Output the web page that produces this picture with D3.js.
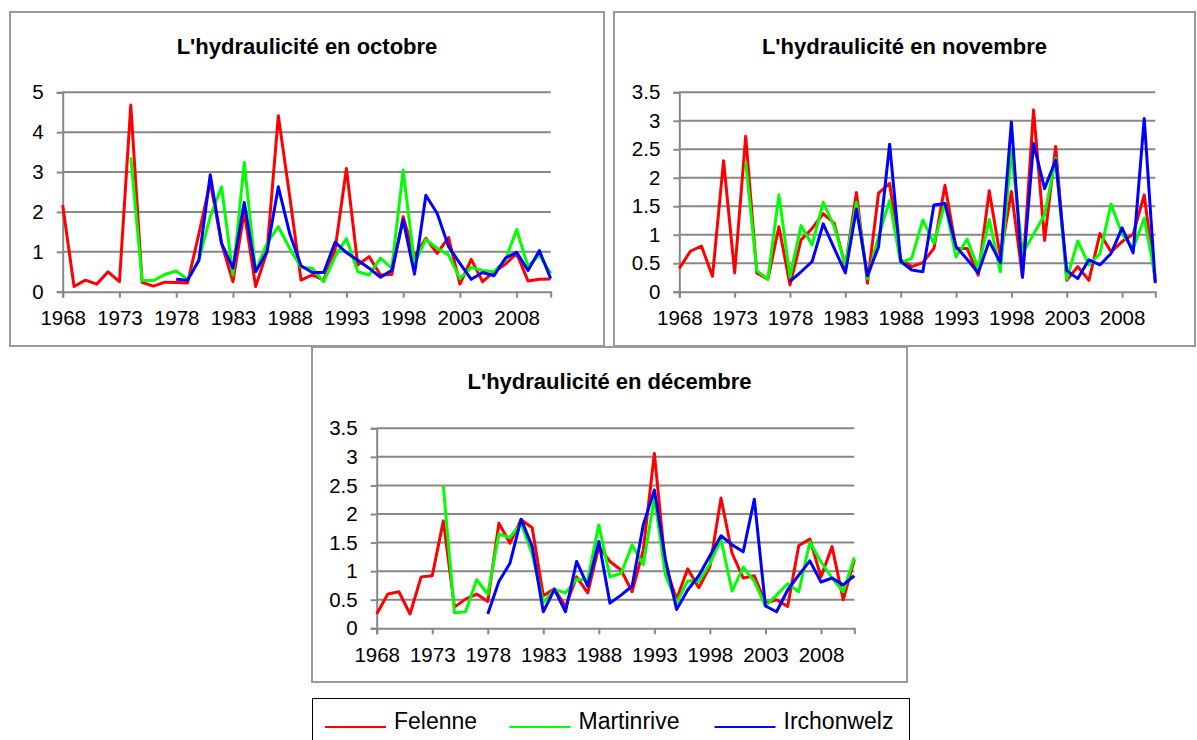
<!DOCTYPE html>
<html>
<head>
<meta charset="utf-8">
<script src="https://cdn.jsdelivr.net/npm/d3@7"></script>
<style>
  html, body { margin: 0; padding: 0; background: #fff; }
  svg { display: block; font-family: "Liberation Sans", Arial, sans-serif; }
</style>
</head>
<body>
<svg id="chart" width="1197" height="740"></svg>
<script>
// ---------- DATA ----------
const years = [1968,1969,1970,1971,1972,1973,1974,1975,1976,1977,1978,1979,1980,1981,1982,1983,1984,1985,1986,1987,1988,1989,1990,1991,1992,1993,1994,1995,1996,1997,1998,1999,2000,2001,2002,2003,2004,2005,2006,2007,2008,2009,2010,2011];
const xTickYears = [1968,1973,1978,1983,1988,1993,1998,2003,2008];
const seriesNames = ["Felenne", "Martinrive", "Irchonwelz"];
const seriesColors = ["#ff0000", "#00ff00", "#0000ff"];

const titles = ["L'hydraulicité en octobre", "L'hydraulicité en novembre", "L'hydraulicité en décembre"];
const yTicksOct = [0,1,2,3,4,5];
const yTicksNovDec = [0,0.5,1,1.5,2,2.5,3,3.5];

// Octobre
const octFelenne    = [2.17,0.13,0.29,0.19,0.50,0.25,4.68,0.23,0.14,0.24,0.23,0.22,1.45,2.75,1.21,0.25,2.00,0.13,1.00,4.41,2.40,0.29,0.42,0.29,1.05,3.09,0.67,0.88,0.42,0.43,1.88,0.88,1.34,0.96,1.36,0.19,0.81,0.25,0.50,0.69,0.96,0.27,0.31,0.32];
const octMartinrive = [null,null,null,null,null,null,3.37,0.28,0.28,0.43,0.52,0.31,0.79,1.88,2.63,0.42,3.24,0.52,1.21,1.63,1.09,0.61,0.59,0.25,0.88,1.33,0.50,0.42,0.84,0.59,3.05,0.71,1.31,1.09,0.92,0.33,0.61,0.53,0.50,0.79,1.56,0.63,0.92,0.46];
const octIrchonwelz = [null,null,null,null,null,null,null,null,null,null,0.31,0.29,0.79,2.93,1.21,0.59,2.24,0.50,1.00,2.63,1.46,0.65,0.48,0.48,1.24,0.98,0.79,0.59,0.36,0.54,1.80,0.44,2.42,1.96,1.13,0.71,0.31,0.48,0.40,0.84,0.99,0.53,1.03,0.33];

// Novembre
const novFelenne    = [0.41,0.71,0.80,0.27,2.30,0.33,2.73,0.33,0.22,1.14,0.12,0.91,1.11,1.37,1.20,0.44,1.74,0.15,1.73,1.90,0.56,0.44,0.51,0.76,1.87,0.76,0.76,0.29,1.77,0.61,1.76,0.26,3.19,0.90,2.55,0.20,0.44,0.20,1.02,0.70,0.88,1.01,1.70,0.18];
const novMartinrive = [null,null,null,null,null,null,2.27,0.37,0.22,1.70,0.26,1.16,0.82,1.57,1.14,0.47,1.57,0.23,0.97,1.60,0.50,0.59,1.26,0.85,1.55,0.61,0.92,0.41,1.27,0.35,2.46,0.67,1.01,1.35,2.34,0.22,0.89,0.47,0.67,1.54,1.01,0.76,1.29,0.26];
const novIrchonwelz = [null,null,null,null,null,null,null,null,null,null,0.18,0.35,0.53,1.19,0.76,0.33,1.45,0.28,0.79,2.59,0.53,0.38,0.35,1.52,1.55,0.79,0.57,0.33,0.89,0.51,2.98,0.25,2.60,1.81,2.31,0.37,0.23,0.56,0.47,0.67,1.12,0.68,3.04,0.15];

// Décembre
const decFelenne    = [0.25,0.60,0.64,0.25,0.90,0.92,1.88,0.37,0.51,0.60,0.47,1.84,1.49,1.90,1.76,0.57,0.69,0.38,0.90,0.62,1.43,1.17,1.02,0.64,1.37,3.06,1.08,0.51,1.04,0.71,1.08,2.28,1.31,0.88,0.92,0.44,0.50,0.38,1.45,1.56,0.90,1.43,0.50,1.20];
const decMartinrive = [null,null,null,null,null,null,2.49,0.27,0.29,0.85,0.60,1.65,1.59,1.84,1.30,0.45,0.68,0.62,0.86,0.85,1.81,0.90,0.96,1.46,1.11,2.29,0.93,0.45,0.83,0.82,1.13,1.55,0.65,1.07,0.82,0.39,0.58,0.78,0.64,1.51,1.16,0.88,0.64,1.24];
const decIrchonwelz = [null,null,null,null,null,null,null,null,null,null,0.25,0.82,1.14,1.91,1.43,0.29,0.68,0.29,1.17,0.74,1.52,0.44,0.58,0.74,1.81,2.42,1.20,0.33,0.67,0.92,1.27,1.62,1.46,1.34,2.26,0.39,0.29,0.67,0.93,1.18,0.81,0.88,0.76,0.92];

// ---------- LAYOUT ----------
const panels = [
  { title: titles[0], frame: [10, 12, 604, 346], x0: 62.7, x1: 550.7, yTop: 92.3, yBot: 291.7, yMax: 5, yTicks: yTicksOct,
    series: [octFelenne, octMartinrive, octIrchonwelz] },
  { title: titles[1], frame: [614, 12, 1195, 346], x0: 679.3, x1: 1155.3, yTop: 92.3, yBot: 291.7, yMax: 3.5, yTicks: yTicksNovDec,
    series: [novFelenne, novMartinrive, novIrchonwelz] },
  { title: titles[2], frame: [312, 347, 907, 682], x0: 376.7, x1: 854.3, yTop: 428.3, yBot: 628.3, yMax: 3.5, yTicks: yTicksNovDec,
    series: [decFelenne, decMartinrive, decIrchonwelz] }
];

const svg = d3.select("#chart");
const gridColor = "#878787";

panels.forEach(p => {
  const g = svg.append("g");
  const [fx0, fy0, fx1, fy1] = p.frame;
  g.append("rect")
    .attr("x", fx0).attr("y", fy0)
    .attr("width", fx1 - fx0).attr("height", fy1 - fy0)
    .attr("fill", "#fff").attr("stroke", "#9a9a9a").attr("stroke-width", 2);

  g.append("text")
    .attr("x", (fx0 + fx1) / 2).attr("y", fy0 + 41.5)
    .attr("text-anchor", "middle")
    .attr("font-size", "22px").attr("font-weight", "bold").attr("fill", "#000")
    .text(p.title);

  const x = d3.scaleLinear().domain([years[0], years[years.length - 1]]).range([p.x0, p.x1]);
  const y = d3.scaleLinear().domain([0, p.yMax]).range([p.yBot, p.yTop]);

  // gridlines
  g.append("g").selectAll("line").data(p.yTicks.filter(t => t > 0)).join("line")
    .attr("x1", p.x0).attr("x2", p.x1)
    .attr("y1", d => y(d)).attr("y2", d => y(d))
    .attr("stroke", gridColor).attr("stroke-width", 2);

  // y axis
  const yAxis = d3.axisLeft(y).tickValues(p.yTicks).tickSize(6).tickPadding(13)
    .tickFormat(d => String(d));
  const ya = g.append("g").attr("transform", `translate(${p.x0},0)`).call(yAxis);
  ya.select(".domain").attr("stroke", gridColor).attr("stroke-width", 2);
  ya.selectAll(".tick line").attr("stroke", gridColor).attr("stroke-width", 2);
  ya.selectAll(".tick text").attr("font-size", "20.5px").attr("fill", "#000")
    .attr("font-family", "Liberation Sans, Arial, sans-serif");

  // x axis
  const xAxis = d3.axisBottom(x).tickValues(xTickYears).tickSize(6).tickPadding(13)
    .tickFormat(d => String(d));
  const xa = g.append("g").attr("transform", `translate(0,${p.yBot})`).call(xAxis);
  xa.select(".domain").attr("stroke", gridColor).attr("stroke-width", 2);
  xa.selectAll(".tick line").attr("stroke", gridColor).attr("stroke-width", 2);
  xa.selectAll(".tick text").attr("font-size", "20.5px").attr("fill", "#000")
    .attr("font-family", "Liberation Sans, Arial, sans-serif");

  // series
  const line = d3.line()
    .defined(d => d.v !== null)
    .x(d => x(d.year)).y(d => y(d.v));
  p.series.forEach((vals, i) => {
    const pts = years.map((yr, k) => ({ year: yr, v: vals[k] }));
    g.append("path").datum(pts)
      .attr("d", line)
      .attr("fill", "none")
      .attr("stroke", seriesColors[i])
      .attr("stroke-width", 3)
      .attr("stroke-linejoin", "round");
  });
});

// ---------- LEGEND ----------
const lg = svg.append("g");
lg.append("rect").attr("x", 312.5).attr("y", 698.5).attr("width", 597).attr("height", 50)
  .attr("fill", "#fff").attr("stroke", "#000").attr("stroke-width", 1);
const legendLineX = [325, 509.5, 714.5];
seriesNames.forEach((name, i) => {
  lg.append("line")
    .attr("x1", legendLineX[i]).attr("x2", legendLineX[i] + 61)
    .attr("y1", 727).attr("y2", 727)
    .attr("stroke", seriesColors[i]).attr("stroke-width", 2);
  lg.append("text")
    .attr("x", legendLineX[i] + 69).attr("y", 729)
    .attr("font-size", "23px").attr("fill", "#000")
    .text(name);
});
</script>
</body>
</html>
